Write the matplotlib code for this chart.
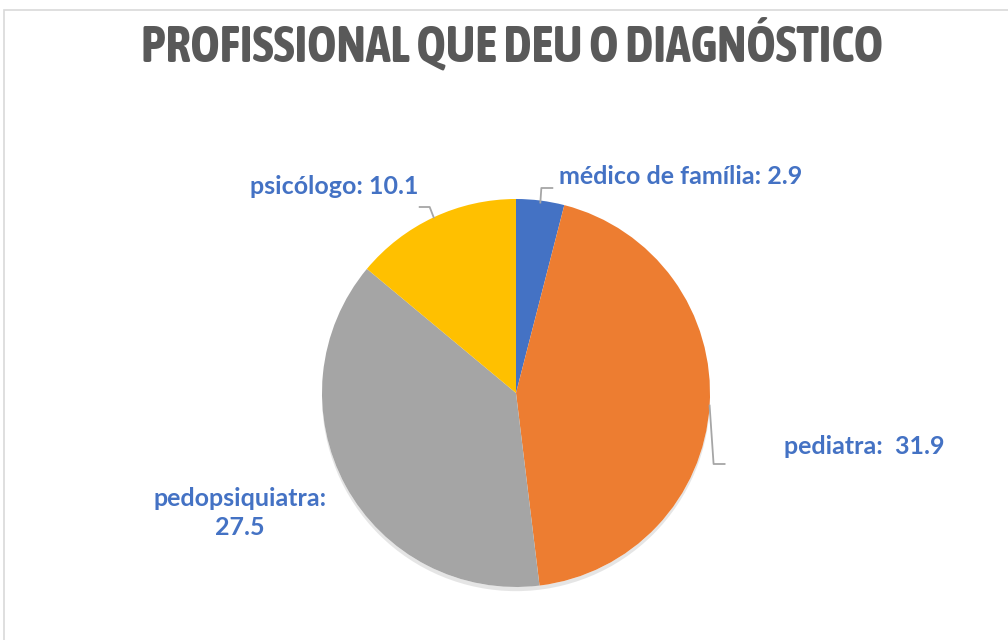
import numpy as np
import matplotlib.pyplot as plt
from matplotlib import patheffects as pe
from matplotlib.patches import Rectangle, Circle
from matplotlib import font_manager as fm

# data
categories = ["médico de família", "pediatra", "pedopsiquiatra", "psicólogo"]
values = [2.9, 31.9, 27.5, 10.1]
colors = ["#4472C4", "#ED7D31", "#A5A5A5", "#FFC000"]
title = "PROFISSIONAL QUE DEU O DIAGNÓSTICO"

W, H = 1008, 640
# look for a plain bold narrow face, closest to Calibri Bold in the reference
bold_narrow = [f for f in fm.fontManager.ttflist
               if ("Narrow" in f.name or "Condensed" in f.name)
               and f.weight in ("bold", 700) and f.style == "normal"]
if bold_narrow:
    title_prop = fm.FontProperties(fname=bold_narrow[0].fname, size=36)
else:
    title_prop = fm.FontProperties(family="Lato", weight="bold", size=27)
label_font = "Lato"

fig = plt.figure(figsize=(W / 100, H / 100), dpi=100)
ax = fig.add_axes([0, 0, 1, 1])
ax.set_xlim(0, W)
ax.set_ylim(0, H)
ax.set_aspect("equal")
ax.axis("off")

# chart border
ax.add_patch(Rectangle((4, -10), W + 20, H - 10 + 10, fill=False,
                       edgecolor="#D9D9D9", lw=1.2))

cx, cy, r = 516, H - 393, 194

# soft shadow under the pie
shadow = Circle((cx, cy), r, facecolor="white", edgecolor="none",
                path_effects=[pe.SimplePatchShadow(offset=(0, -3), alpha=0.2, shadow_rgbFace="#808080"),
                              pe.Normal()])
ax.add_patch(shadow)

wedges, _ = ax.pie(values, colors=colors, startangle=90, counterclock=False,
                   center=(cx, cy), radius=r, frame=True,
                   wedgeprops=dict(edgecolor="none", linewidth=0))
ax.set_xlim(0, W)
ax.set_ylim(0, H)
ax.axis("off")

ax.text(W / 2 + 8, H - 45, title, ha="center", va="center",
        fontproperties=title_prop, color="#595959")

lab_color = "#4472C4"
line_color = "#A6A6A6"
fs = 18


def mid_point(w, k=1.0):
    a = np.deg2rad((w.theta1 + w.theta2) / 2)
    return cx + r * k * np.cos(a), cy + r * k * np.sin(a)


# médico de família
x0, y0 = mid_point(wedges[0])
ax.plot([x0, x0 + 1, x0 + 12], [y0 - 2, H - 188, H - 188], color=line_color, lw=1.3)
ax.text(559, H - 176, f"{categories[0]}: {values[0]}", ha="left", va="center",
        fontsize=fs, fontweight="bold", color=lab_color, family=label_font)

# pediatra
x0, y0 = mid_point(wedges[1])
ax.plot([x0, x0 + 4, x0 + 15], [y0, H - 464, H - 464], color=line_color, lw=1.3)
ax.text(784, H - 447, f"{categories[1]}:  {values[1]}", ha="left", va="center",
        fontsize=fs, fontweight="bold", color=lab_color, family=label_font)

# pedopsiquiatra
ax.text(240, H - 513, f"{categories[2]}:\n{values[2]}", ha="center", va="center",
        fontsize=fs, fontweight="bold", color=lab_color, family=label_font,
        linespacing=1.3)

# psicólogo
x0, y0 = mid_point(wedges[3])
ax.plot([x0, x0 - 4, x0 - 14], [y0, H - 207, H - 207], color=line_color, lw=1.3)
ax.text(419, H - 186, f"{categories[3]}: {values[3]}", ha="right", va="center",
        fontsize=fs, fontweight="bold", color=lab_color, family=label_font)

fig.savefig("out.png", dpi=100)
